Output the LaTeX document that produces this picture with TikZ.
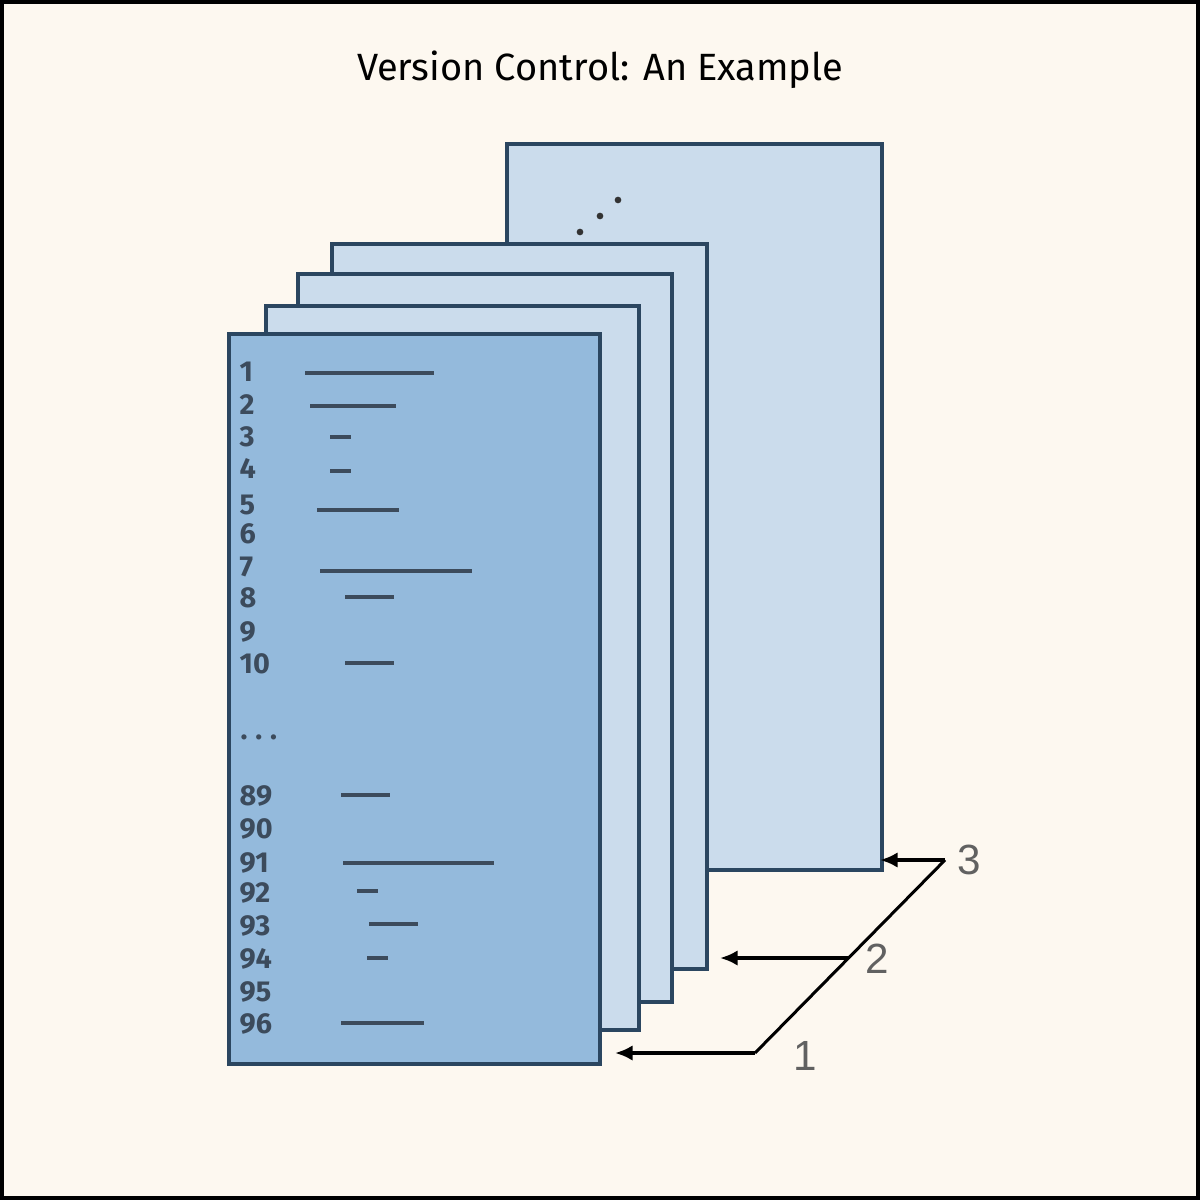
\documentclass[tikz,border=0pt]{standalone}
\usepackage{fontspec}
\setmainfont{Fira Sans}
\newfontfamily\labelfont{Liberation Sans}
\usetikzlibrary{arrows.meta}

\definecolor{paper}{HTML}{FDF8F0}
\definecolor{frontblue}{HTML}{94BADC}
\definecolor{backblue}{HTML}{CBDCEC}
\definecolor{edge}{HTML}{2B4660}
\definecolor{ink}{HTML}{3C4B5C}

\tikzset{
  version/.style={draw=edge, line width=0.036cm, fill=backblue, anchor=north west,
    inner sep=0pt, minimum width=3.74cm, minimum height=7.27cm},
  linenum/.style={anchor=west, inner sep=0pt, text=ink,
    font=\fontsize{8.2}{10}\selectfont\bfseries},
  codeline/.style={draw=ink, line width=0.035cm},
  pointer/.style={line width=0.034cm, -{Latex[length=5pt,width=4.4pt]}},
  vlabel/.style={inner sep=0pt, text=black!62, font=\labelfont\fontsize{12}{14}\selectfont}
}

\begin{document}
\begin{tikzpicture}[x=0.01cm, y=-0.01cm]
        \useasboundingbox (0,0) rectangle (1200,1200);
        \fill[paper] (0,0) rectangle (1200,1200);
        \draw[line width=0.04cm] (2,2) rectangle (1198,1198);

        \node[font=\fontsize{10.8}{13}\selectfont] (title) at (600,70) {Version Control: An Example};

        % the stack of versions, back to front
        \node[version, minimum width=3.75cm, minimum height=7.26cm] (verN) at (505,142) {};
        \fill[black!80] (580,232) circle (0.95pt);
        \fill[black!80] (600,216) circle (0.95pt);
        \fill[black!80] (618,200) circle (0.95pt);

        \node[version, minimum width=3.75cm, minimum height=7.25cm] (ver3) at (330,242) {};
        \node[version, minimum width=3.74cm, minimum height=7.28cm] (ver2) at (296,272) {};
        \node[version, minimum width=3.73cm, minimum height=7.24cm] (ver1) at (264,304) {};
        \node[version, fill=frontblue, minimum width=3.71cm, minimum height=7.30cm] (ver0) at (227,332) {};

        \foreach \n/\y in {1/372, 2/405, 3/437, 4/469, 5/505, 6/534, 7/567, 8/598, 9/632, 10/664,
                           89/796, 90/829, 91/863, 92/893, 93/926, 94/959, 95/992, 96/1024}
          \node[linenum] (num\n) at (239,\y) {\n};
        \node[linenum] (skip) at (240,737) {.\kern2.2pt.\kern2.2pt.};

        \foreach \y/\a/\b in {373/305/434, 406/310/396, 437/330/351, 471/330/351, 510/317/399,
                              571/320/472, 597/345/394, 663/345/394, 795/341/390, 863/343/494,
                              891/357/378, 924/369/418, 958/367/388, 1023/341/424}
          \draw[codeline] (\a,\y) -- (\b,\y);

        % pointers to versions
        \coordinate (k3) at (945,860);
        \coordinate (k2) at (848,958);
        \coordinate (k1) at (755,1053);
        \coordinate (t3) at (880,860);
        \coordinate (t2) at (720,958);
        \coordinate (t1) at (615,1053);

        \draw[line width=0.03cm] (k3) -- (k1);
        \draw[pointer] (k3) -- (t3);
        \draw[pointer] (k2) -- (t2);
        \draw[pointer] (k1) -- (t1);

        \node[vlabel] (lab3) at (969,860) {3};
        \node[vlabel] (lab2) at (877,959) {2};
        \node[vlabel] (lab1) at (805,1056) {1};
      \end{tikzpicture}
\end{document}
